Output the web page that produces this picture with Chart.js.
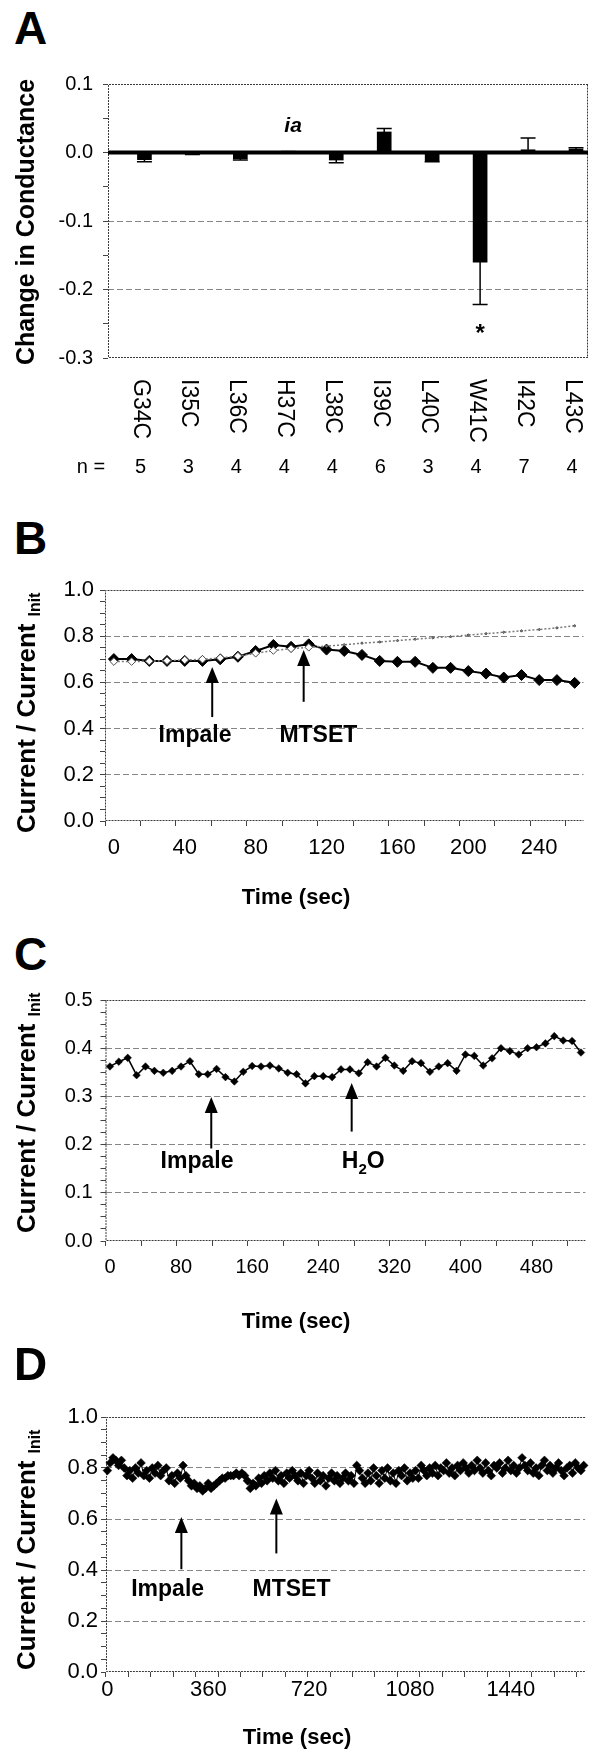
<!DOCTYPE html>
<html>
<head>
<meta charset="utf-8">
<title>Cysteine scan and current traces</title>
<script src="https://cdn.jsdelivr.net/npm/chart.js@4.4.1/dist/chart.umd.min.js"></script>
<style>
  html, body { margin: 0; padding: 0; background: #fff; }
  #fig { position: relative; width: 590px; height: 1750px; overflow: hidden; }
  #fig canvas { position: absolute; left: 0; }
  .tag { position: absolute; left: 14px; font: bold 46px 'Liberation Sans', Arial, sans-serif; line-height: 46px; }
</style>
</head>
<body>
<div id="fig">
  <div class="tag" style="top:5px">A</div>
  <canvas id="chartA" width="590" height="500" style="top:0"></canvas>
  <div class="tag" style="top:515px">B</div>
  <canvas id="chartB" width="590" height="350" style="top:560px"></canvas>
  <div class="tag" style="top:931px">C</div>
  <canvas id="chartC" width="590" height="365" style="top:975px"></canvas>
  <div class="tag" style="top:1341px">D</div>
  <canvas id="chartD" width="590" height="360" style="top:1390px"></canvas>
</div>
<script>
const SANS = "'Liberation Sans', Arial, sans-serif";
const NARROW = "'Liberation Sans Narrow', 'Arial Narrow', 'Liberation Sans', sans-serif";

// A: change in conductance per mutant (mean, one-sided error)
const mutants = ['G34C', 'I35C', 'L36C', 'H37C', 'L38C', 'I39C', 'L40C', 'W41C', 'I42C', 'L43C'];
const nCells = [5, 3, 4, 4, 4, 6, 3, 4, 7, 4];
const condChange = [-0.0105, -0.002, -0.009, 0.002, -0.011, 0.030, -0.0125, -0.160, 0.004, 0.005];
const condErr = [0.003, 0.001, 0.002, 0, 0.004, 0.005, 0.001, 0.062, 0.017, 0.002];

// B: MTSET trace and the grey reference trace
const timeB = [0, 10, 20, 30, 40, 50, 60, 70, 80, 90, 100, 110, 120, 130, 140, 150, 160, 170, 180, 190,
  200, 210, 220, 230, 240, 250, 260];
const mtsetB = [0.701, 0.701, 0.693, 0.693, 0.693, 0.693, 0.700, 0.711, 0.736, 0.762, 0.754, 0.765, 0.742,
  0.736, 0.719, 0.693, 0.689, 0.689, 0.663, 0.663, 0.649, 0.638, 0.621, 0.632, 0.610, 0.610, 0.598];
const controlB = [0.690, 0.690, 0.692, 0.694, 0.697, 0.700, 0.706, 0.714, 0.726, 0.738, 0.746, 0.752, 0.757,
  0.763, 0.770, 0.775, 0.781, 0.787, 0.793, 0.798, 0.805, 0.811, 0.817, 0.823, 0.829, 0.836, 0.845];

// C: water trace
const timeC = [0, 10, 20, 30, 40, 50, 60, 70, 80, 90, 100, 110, 120, 130, 140, 150, 160, 170, 180, 190,
  200, 210, 220, 230, 240, 250, 260, 270, 280, 290, 300, 310, 320, 330, 340, 350, 360, 370, 380, 390,
  400, 410, 420, 430, 440, 450, 460, 470, 480, 490, 500, 510, 520, 530];
const waterC = [0.362, 0.372, 0.380, 0.344, 0.362, 0.353, 0.349, 0.353, 0.362, 0.373,
  0.346, 0.346, 0.357, 0.340, 0.331, 0.351, 0.363, 0.362, 0.364, 0.358,
  0.349, 0.346, 0.327, 0.342, 0.342, 0.340, 0.356, 0.356, 0.348, 0.371,
  0.362, 0.380, 0.364, 0.353, 0.373, 0.369, 0.351, 0.362, 0.369, 0.353,
  0.387, 0.384, 0.364, 0.379, 0.400, 0.394, 0.387, 0.400, 0.402, 0.410,
  0.425, 0.416, 0.415, 0.391];

// D: long MTSET trace
const timeD = [0, 10, 20, 30, 40, 50, 60, 70, 80, 90, 100, 110, 120, 130, 140, 150, 160, 170, 180, 190,
  200, 210, 220, 230, 240, 250, 260, 270, 280, 290, 300, 310, 320, 330, 340, 350, 360, 370, 380, 390,
  400, 410, 420, 430, 440, 450, 460, 470, 480, 490, 500, 510, 520, 530, 540, 550, 560, 570, 580, 590,
  600, 610, 620, 630, 640, 650, 660, 670, 680, 690, 700, 710, 720, 730, 740, 750, 760, 770, 780, 790,
  800, 810, 820, 830, 840, 850, 860, 870, 880, 890, 900, 910, 920, 930, 940, 950, 960, 970, 980, 990,
  1000, 1010, 1020, 1030, 1040, 1050, 1060, 1070, 1080, 1090, 1100, 1110, 1120, 1130, 1140, 1150, 1160, 1170, 1180, 1190,
  1200, 1210, 1220, 1230, 1240, 1250, 1260, 1270, 1280, 1290, 1300, 1310, 1320, 1330, 1340, 1350, 1360, 1370, 1380, 1390,
  1400, 1410, 1420, 1430, 1440, 1450, 1460, 1470, 1480, 1490, 1500, 1510, 1520, 1530, 1540, 1550, 1560, 1570, 1580, 1590,
  1600, 1610, 1620, 1630, 1640, 1650, 1660, 1670, 1680, 1690, 1700];
const mtsetD = [0.79, 0.82, 0.84, 0.83, 0.81, 0.83, 0.80, 0.77, 0.79,
  0.76, 0.80, 0.78, 0.82, 0.77, 0.79, 0.76, 0.80, 0.78, 0.81, 0.77, 0.79, 0.80,
  0.75, 0.77, 0.74, 0.78, 0.76, 0.81, 0.77,
  0.75, 0.73, 0.74, 0.72, 0.73, 0.71, 0.72, 0.74, 0.72, 0.73, 0.74,
  0.75, 0.76, 0.76, 0.77, 0.77, 0.77, 0.78, 0.77, 0.78, 0.77,
  0.75, 0.72, 0.74, 0.73,
  0.76, 0.74, 0.77, 0.75, 0.78, 0.76, 0.79, 0.75, 0.77, 0.74, 0.78, 0.76, 0.79, 0.77, 0.75,
  0.78, 0.74, 0.77, 0.79, 0.76, 0.74, 0.78, 0.75, 0.77, 0.73, 0.76, 0.78, 0.75, 0.77, 0.74,
  0.76, 0.78, 0.75, 0.77, 0.74,
  0.81, 0.79, 0.76, 0.74, 0.78, 0.75, 0.80, 0.77, 0.74, 0.79, 0.76, 0.80, 0.75, 0.78, 0.74,
  0.79, 0.77, 0.80, 0.75, 0.78, 0.76, 0.79, 0.76,
  0.81, 0.79, 0.77, 0.80, 0.78, 0.81, 0.77, 0.80, 0.79, 0.82, 0.78, 0.80, 0.77, 0.81, 0.79,
  0.82, 0.80, 0.78, 0.81, 0.79, 0.83, 0.80, 0.78, 0.82, 0.79, 0.77, 0.81, 0.80, 0.82, 0.78,
  0.80, 0.83, 0.79, 0.81, 0.78, 0.80, 0.84, 0.81, 0.79, 0.82, 0.78, 0.80, 0.77, 0.81, 0.83,
  0.79, 0.81, 0.78, 0.80, 0.82, 0.79, 0.77, 0.80, 0.81, 0.78, 0.82, 0.80, 0.79, 0.81];

Chart.defaults.font.family = SANS;
Chart.defaults.color = '#000';
Chart.defaults.animation = false;
Chart.defaults.plugins.legend.display = false;
Chart.defaults.plugins.tooltip.enabled = false;

function yAxis(min, max, step, major, width, pad, font) {
  const onMajor = v => Math.abs(v / major - Math.round(v / major)) < 1e-6;
  return {
    min, max,
    afterFit(s) { s.width = width; },
    ticks: { stepSize: step, autoSkip: false, padding: pad, font, color: '#000',
      callback: v => (onMajor(v) ? v.toFixed(1) : '') },
    grid: {
      color: c => (c.tick && onMajor(c.tick.value) && Math.abs(c.tick.value) > 1e-9 &&
        c.tick.value > min + 1e-9 && c.tick.value < max - 1e-9) ? '#858585' : 'rgba(0,0,0,0)',
      tickColor: '#444', tickLength: 5
    },
    border: { display: false, dash: [6, 3] }
  };
}

function xAxis(height, pad, font, labelEvery, markEvery) {
  return {
    type: 'category', offset: true,
    afterFit(s) { s.height = height; },
    ticks: { autoSkip: false, maxRotation: 0, minRotation: 0, padding: pad, font, color: '#000',
      callback(v, i) { return i % labelEvery === 0 ? String(this.getLabelForValue(v)) : ''; } },
    grid: { offset: true, drawOnChartArea: false, tickLength: 5,
      tickColor: c => (c.index !== undefined && c.index % markEvery === 0 ? '#444' : 'rgba(0,0,0,0)') },
    border: { display: false }
  };
}

function richText(ctx, parts, cx, baseY, font, subFont) {
  const widths = parts.map(p => { ctx.font = p.sub ? subFont : font; return ctx.measureText(p.t).width; });
  let x = cx - widths.reduce((a, b) => a + b, 0) / 2;
  ctx.textAlign = 'left';
  ctx.textBaseline = 'alphabetic';
  parts.forEach((p, i) => {
    ctx.font = p.sub ? subFont : font;
    ctx.fillText(p.t, x, baseY + (p.sub ? 6 : 0));
    x += widths[i];
  });
}

// frame, zero line, error bars, arrows, notes and axis titles
function decor(cfg) {
  return {
    id: 'decor',
    beforeDatasetsDraw(chart) {
      const { ctx, chartArea: a, scales: { y } } = chart;
      ctx.save();
      ctx.strokeStyle = '#3a3a3a';
      ctx.lineWidth = 1;
      ctx.setLineDash([2, 1]);
      ctx.beginPath();
      if (cfg.rightBorder) { ctx.moveTo(a.right - 0.5, a.top + 0.5); ctx.lineTo(a.right - 0.5, a.bottom - 0.5); }
      ctx.moveTo(a.right, a.top + 0.5); ctx.lineTo(a.left + 0.5, a.top + 0.5);
      ctx.lineTo(a.left + 0.5, a.bottom - 0.5); ctx.lineTo(a.right, a.bottom - 0.5);
      ctx.stroke();
      if (cfg.zeroLine) {
        const y0 = y.getPixelForValue(0);
        ctx.setLineDash([]);
        ctx.lineWidth = 4;
        ctx.strokeStyle = '#000';
        ctx.beginPath(); ctx.moveTo(a.left, y0); ctx.lineTo(a.right, y0); ctx.stroke();
      }
      ctx.restore();
    },
    afterDraw(chart) {
      const { ctx, scales: { x, y } } = chart;
      ctx.save();
      ctx.fillStyle = '#000';
      ctx.strokeStyle = '#000';
      ctx.setLineDash([]);

      if (cfg.errors) {
        ctx.lineWidth = 1.5;
        cfg.values.forEach((v, i) => {
          const e = cfg.errors[i];
          if (!e) return;
          const px = x.getPixelForValue(i);
          const y1 = y.getPixelForValue(v);
          const y2 = y.getPixelForValue(v + (v < 0 ? -e : e));
          ctx.beginPath(); ctx.moveTo(px, y1); ctx.lineTo(px, y2);
          ctx.moveTo(px - 7.5, y2); ctx.lineTo(px + 7.5, y2); ctx.stroke();
        });
      }

      (cfg.arrows || []).forEach(ar => {
        const px = x.getPixelForValue(ar.x);
        const tip = y.getPixelForValue(ar.tip);
        const tail = y.getPixelForValue(ar.tail);
        ctx.lineWidth = 2;
        ctx.beginPath(); ctx.moveTo(px, tail); ctx.lineTo(px, tip + 12); ctx.stroke();
        ctx.beginPath(); ctx.moveTo(px, tip); ctx.lineTo(px - 6.5, tip + 16); ctx.lineTo(px + 6.5, tip + 16);
        ctx.closePath(); ctx.fill();
      });

      (cfg.notes || []).forEach(n => {
        richText(ctx, n.parts, x.getPixelForValue(n.x) + (n.dx || 0), y.getPixelForValue(n.y),
          n.font || cfg.noteFont, n.subFont || cfg.noteSubFont);
      });

      if (cfg.catLabels) {
        const c = cfg.catLabels;
        c.labels.forEach((lab, i) => {
          const px = x.getPixelForValue(i) + c.dx;
          ctx.save();
          ctx.font = c.font;
          ctx.translate(px, c.top);
          ctx.rotate(Math.PI / 2);
          ctx.textAlign = 'left';
          ctx.textBaseline = 'middle';
          ctx.fillText(lab, 0, 0);
          ctx.restore();
        });
        ctx.font = c.nFont;
        ctx.textAlign = 'center';
        ctx.textBaseline = 'alphabetic';
        ctx.fillText(c.nPrefix, c.nPrefixX, c.nY);
        c.n.forEach((n, i) => ctx.fillText(String(n), x.getPixelForValue(i) + c.dx, c.nY));
      }

      if (cfg.yTitle) {
        const t = cfg.yTitle;
        ctx.save();
        ctx.translate(t.x, t.y);
        ctx.rotate(-Math.PI / 2);
        ctx.textBaseline = 'middle';
        ctx.font = t.font;
        if (t.sub) {
          ctx.textAlign = 'left';
          ctx.fillText(t.text, 0, 0);
          const w = ctx.measureText(t.text).width;
          ctx.font = t.subFont;
          ctx.fillText(t.sub, w + 7, 8);
        } else {
          ctx.textAlign = 'center';
          ctx.fillText(t.text, 0, 0);
        }
        ctx.restore();
      }

      if (cfg.xTitle) {
        ctx.font = 'bold 22px ' + SANS;
        ctx.textAlign = 'center';
        ctx.textBaseline = 'alphabetic';
        ctx.fillText(cfg.xTitle.text, cfg.xTitle.x, cfg.xTitle.y);
      }
      ctx.restore();
    }
  };
}

const currentTitle = (bottom) => ({ text: 'Current / Current', sub: 'Init', x: 28, y: bottom,
  font: 'bold 26px ' + SANS, subFont: 'bold 16px ' + SANS });

// ---- A ----
new Chart(document.getElementById('chartA'), {
  type: 'bar',
  data: {
    datasets: [{
      data: condChange.map((v, i) => ({ x: i, y: v })),
      backgroundColor: '#000',
      barThickness: 14
    }]
  },
  options: {
    responsive: false,
    devicePixelRatio: 1,
    layout: { padding: { top: 84, right: 2, left: 0, bottom: 0 } },
    scales: {
      x: { type: 'linear', min: -0.76, max: 9.25, offset: false,
        afterFit(s) { s.height = 142; },
        ticks: { display: false }, grid: { display: false }, border: { display: false } },
      y: yAxis(-0.3, 0.1, 0.05, 0.1, 108, 10, { family: SANS, size: 20 })
    }
  },
  plugins: [decor({
    rightBorder: true,
    zeroLine: true,
    values: condChange,
    errors: condErr,
    notes: [
      { parts: [{ t: 'ia' }], x: 3.1, y: 0.030, font: 'italic bold 21px ' + SANS },
      { parts: [{ t: '*' }], x: 7, y: -0.275, font: 'bold 24px ' + SANS }
    ],
    catLabels: { labels: mutants, n: nCells, top: 379, dx: -4, font: '23px ' + SANS,
      nFont: '20px ' + SANS, nY: 473, nPrefix: 'n =', nPrefixX: 91 },
    yTitle: { text: 'Change in Conductance', x: 27, y: 222, font: 'bold 25px ' + SANS }
  })]
});

// ---- B ----
new Chart(document.getElementById('chartB'), {
  type: 'line',
  data: {
    labels: timeB,
    datasets: [{
      data: controlB,
      borderColor: '#7a7a7a', borderWidth: 1.5, borderDash: [2, 2],
      pointStyle: 'rectRot',
      pointRadius: c => (c.dataIndex <= 11 ? 3.8 : 1.3),
      pointBackgroundColor: c => (c.dataIndex <= 11 ? '#fff' : '#777'),
      pointBorderColor: '#555', pointBorderWidth: 1
    }, {
      data: mtsetB,
      borderColor: '#000', borderWidth: 2,
      pointStyle: 'rectRot', pointRadius: 5.5,
      pointBackgroundColor: '#000', pointBorderColor: '#000', pointBorderWidth: 1
    }]
  },
  options: {
    responsive: false,
    devicePixelRatio: 1,
    layout: { padding: { top: 30, right: 0, left: 0, bottom: 0 } },
    scales: {
      x: xAxis(89, 9, { family: NARROW, size: 22 }, 4, 2),
      y: yAxis(0, 1, 0.05, 0.2, 105, 6, { family: NARROW, size: 22 })
    }
  },
  plugins: [decor({
    arrows: [{ x: 5.55, tip: 0.667, tail: 0.45 }, { x: 10.71, tip: 0.74, tail: 0.516 }],
    notes: [{ parts: [{ t: 'Impale' }], x: 4.58, y: 0.342 }, { parts: [{ t: 'MTSET' }], x: 11.54, y: 0.342 }],
    noteFont: 'bold 23px ' + SANS,
    yTitle: currentTitle(273),
    xTitle: { text: 'Time (sec)', x: 296, y: 344 }
  })]
});

// ---- C ----
new Chart(document.getElementById('chartC'), {
  type: 'line',
  data: {
    labels: timeC,
    datasets: [{
      data: waterC,
      borderColor: '#000', borderWidth: 1.5,
      pointStyle: 'rectRot', pointRadius: 3.8,
      pointBackgroundColor: '#000', pointBorderColor: '#000', pointBorderWidth: 0.5
    }]
  },
  options: {
    responsive: false,
    devicePixelRatio: 1,
    layout: { padding: { top: 25, right: 0, left: 0, bottom: 0 } },
    scales: {
      x: xAxis(99, 9, { family: SANS, size: 20 }, 8, 4),
      y: yAxis(0, 0.5, 0.025, 0.1, 105.5, 8, { family: SANS, size: 20 })
    }
  },
  plugins: [decor({
    arrows: [{ x: 11.4, tip: 0.299, tail: 0.192 }, { x: 27.2, tip: 0.328, tail: 0.227 }],
    notes: [
      { parts: [{ t: 'Impale' }], x: 9.8, y: 0.152 },
      { parts: [{ t: 'H' }, { t: '2', sub: true }, { t: 'O' }], x: 28.5, y: 0.152 }
    ],
    noteFont: 'bold 23px ' + SANS,
    noteSubFont: 'bold 15px ' + SANS,
    yTitle: currentTitle(258),
    xTitle: { text: 'Time (sec)', x: 296, y: 353 }
  })]
});

// ---- D ----
new Chart(document.getElementById('chartD'), {
  type: 'line',
  data: {
    labels: timeD,
    datasets: [{
      data: mtsetD,
      borderColor: '#000', borderWidth: 1,
      pointStyle: 'rectRot', pointRadius: 4.4,
      pointBackgroundColor: '#000', pointBorderColor: '#000', pointBorderWidth: 0.5
    }]
  },
  options: {
    responsive: false,
    devicePixelRatio: 1,
    layout: { padding: { top: 27, right: 0, left: 0, bottom: 0 } },
    scales: {
      x: xAxis(78, 0, { family: NARROW, size: 22 }, 36, 8),
      y: yAxis(0, 1, 0.05, 0.2, 106, 3, { family: NARROW, size: 22 })
    }
  },
  plugins: [decor({
    arrows: [{ x: 26.4, tip: 0.608, tail: 0.403 }, { x: 60.3, tip: 0.680, tail: 0.465 }],
    notes: [{ parts: [{ t: 'Impale' }], x: 21.5, y: 0.30 }, { parts: [{ t: 'MTSET' }], x: 65.7, y: 0.30 }],
    noteFont: 'bold 23px ' + SANS,
    yTitle: currentTitle(280),
    xTitle: { text: 'Time (sec)', x: 297, y: 354 }
  })]
});
</script>
</body>
</html>
